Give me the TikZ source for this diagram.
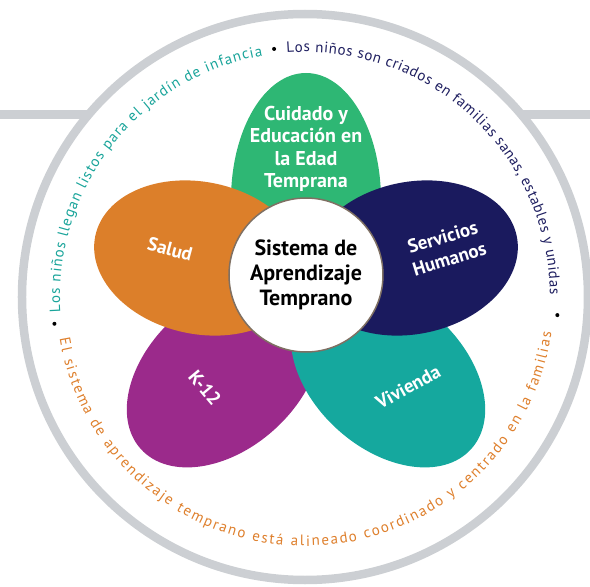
\documentclass[tikz,border=0pt]{standalone}
\usepackage{fontspec}
\setmainfont{PT Sans}
\usetikzlibrary{decorations.text}

\definecolor{ringgray}{HTML}{CCCFD3}
\definecolor{petalgreen}{HTML}{2EB774}
\definecolor{petalorange}{HTML}{DC7F2A}
\definecolor{petalnavy}{HTML}{1A1A5E}
\definecolor{petalpurple}{HTML}{9B2A8B}
\definecolor{petalteal}{HTML}{15A89E}
\definecolor{hubrim}{HTML}{7F7063}
\definecolor{textteal}{HTML}{19A49A}
\definecolor{textnavy}{HTML}{1F1F60}
\definecolor{textorange}{HTML}{DE7F2C}

\begin{document}
\begin{tikzpicture}
  [x=1pt, y=1pt,
   every node/.style={inner sep=0pt, text=white, align=center,
                      font=\bfseries\fontsize{19}{23}\selectfont},
   rim/.style={draw=ringgray, line width=8.5pt},
   hub/.style={circle, fill=white, draw=hubrim, line width=1.5pt, minimum size=154pt,
               text=black, font=\bfseries\fontsize{22}{25}\selectfont},
   dotmark/.style={circle, fill=black, minimum size=4pt},
   arctext/.style={decorate, decoration={text along path, text align=fit to path}}]

  \useasboundingbox (-305,-290) rectangle (285,297);

  \draw[rim] (-305,182.5) -- (-214,182.5);
  \draw[rim] (214,182.5) -- (285,182.5);
  \draw[rim] (0,0) circle [radius=283pt];

  \fill[petalgreen] (1,97) ellipse [x radius=75pt, y radius=127pt];
  \fill[petalpurple, rotate around={42:(-81,-77)}] (-81,-77) ellipse [x radius=112pt, y radius=75pt];
  \fill[petalteal, rotate around={-42:(83,-77)}] (83,-77) ellipse [x radius=112pt, y radius=75pt];
  \fill[petalorange, rotate around={-12:(-105,39)}] (-105,39) ellipse [x radius=107pt, y radius=76pt];
  \fill[petalnavy, rotate around={12:(107,39)}] (107,39) ellipse [x radius=107pt, y radius=76pt];

  \node[font=\bfseries\fontsize{20}{22.5}\selectfont] (cuidado) at (1,148) {Cuidado y\\Educación en\\la Edad\\Temprana};
  \node[rotate=-15] (salud) at (-135,48) {Salud};
  \node[rotate=17] (servicios) at (141,49) {Servicios\\Humanos};
  \node[rotate=-50] (k12) at (-100,-91) {K-12};
  \node[rotate=29] (vivienda) at (103,-90) {Vivienda};
  \node[hub] (sistema) at (1,22) {Sistema de\\Aprendizaje\\Temprano};

  \path[arctext, decoration={text={|\mdseries\fontsize{15}{15}\selectfont\color{textteal}|Los niños llegan listos para el jardín de infancia}}]
    (183.6:245) arc [start angle=183.6, end angle=100, radius=245pt];
  \path[arctext, decoration={text={|\mdseries\fontsize{15}{15}\selectfont\color{textnavy}|Los niños son criados en familias sanas, estables y unidas}}]
    (94.3:245) arc [start angle=94.3, end angle=0.5, radius=245pt];
  \path[arctext, decoration={text={|\mdseries\fontsize{15}{15}\selectfont\color{textorange}|El sistema de aprendizaje temprano está alineado coordinado y centrado en la familias}}]
    (189.7:249) arc [start angle=189.7, end angle=351.8, radius=249pt];

  \node[dotmark] (dottop) at (97.1:250) {};
  \node[dotmark] (dotleft) at (186.1:252) {};
  \node[dotmark] (dotright) at (355.9:253) {};
\end{tikzpicture}
\end{document}
